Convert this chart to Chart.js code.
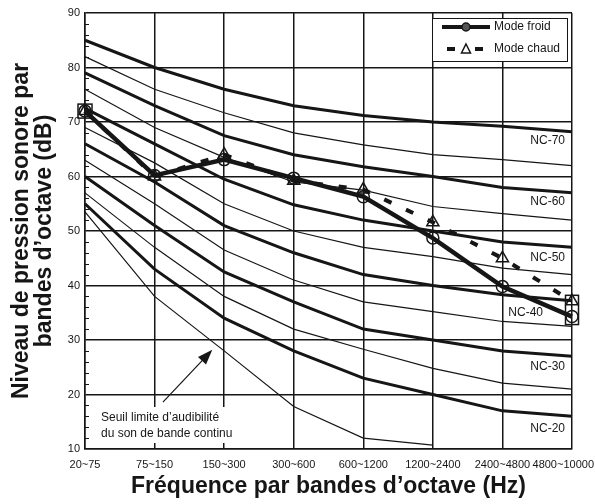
<!DOCTYPE html>
<html lang="fr">
<head>
  <meta charset="UTF-8" />
  <title>Courbes NC</title>
  <script src="https://cdn.jsdelivr.net/npm/chart.js"></script>
  <style>
    html, body { margin: 0; padding: 0; background: #fff; }
    canvas { display: block; }
  </style>
</head>
<body>
  <canvas id="ncChart" width="595" height="504"></canvas>

  <script>
    const bands = ['20~75', '75~150', '150~300', '300~600', '600~1200', '1200~2400', '2400~4800', '4800~10000'];
    const yTicks = [10, 20, 30, 40, 50, 60, 70, 80, 90];

    // NC curves
    const nc70 = [85, 80, 76, 73, 71.2, 70, 69.2, 68.2];
    const nc65 = [82, 76, 71.7, 68, 65.8, 64, 63.1, 62];
    const nc60 = [79, 73, 67.5, 64, 61.8, 60, 58, 57];
    const nc55 = [76, 69, 63.5, 59, 57.5, 54.5, 53.2, 52];
    const nc50 = [72.5, 66, 59.5, 54.8, 52, 50, 48, 47];
    const nc45 = [69, 62.5, 55, 50, 47, 45.3, 43.2, 42];
    const nc40 = [66, 59, 51, 46, 42, 40, 38.3, 37.2];
    const nc35 = [63, 55, 46.5, 41, 37, 35.2, 33.4, 32.5];
    const nc30 = [60, 51, 42.5, 37, 32, 30, 28, 27];
    const nc25 = [57, 47, 38, 32, 28.3, 24.8, 22.1, 21];
    const nc20 = [55, 43, 34, 28, 23, 20, 17, 16];
    const threshold = [53.5, 38, 28, 17.8, 12, 10.7]; // stops at 1200~2400

    const modeFroid = [72, 60.2, 63.1, 59.7, 56.3, 48.7, 39.8, 34.3];
    const modeChaud = [72, 60, 64, 59.2, 57.6, 51.6, 45, 37.1];

    const ncNames = ['NC-70', 'NC-60', 'NC-50', 'NC-40', 'NC-30', 'NC-20'];
    const ncLabelLevels = [66.6, 55.4, 45.1, 35, 25.1, 13.7];

    const FONT = "'Liberation Sans', Arial, Helvetica, sans-serif";
    const INK = '#161616';
    Chart.defaults.font.family = FONT;
    Chart.defaults.color = INK;

    const curve = (data, thick) => ({
      data: data,
      borderColor: INK,
      borderWidth: thick ? 3 : 1.2,
      pointRadius: 0,
      tension: 0
    });

    const decor = {
      id: 'decor',
      afterDatasetsDraw(chart) {
        const { ctx, chartArea: a, scales: { x, y } } = chart;
        ctx.save();

        // small inner ticks every 2 dB
        ctx.strokeStyle = INK;
        ctx.lineWidth = 1;
        for (let v = 12; v < 90; v += 2) {
          if (v % 10 === 0) continue;
          const py = Math.round(y.getPixelForValue(v)) + 0.5;
          ctx.beginPath();
          ctx.moveTo(a.left, py);
          ctx.lineTo(a.left + 4, py);
          ctx.stroke();
        }

        // blank band behind the note
        const gTop = y.getPixelForValue(17.7);
        const gBot = y.getPixelForValue(11.1);
        ctx.fillStyle = '#fff';
        ctx.fillRect(a.left + 12, gTop, x.getPixelForValue(2.95) - a.left - 12, gBot - gTop);

        // note + arrow
        ctx.fillStyle = INK;
        ctx.font = '12px ' + FONT;
        ctx.textAlign = 'left';
        ctx.textBaseline = 'middle';
        ctx.fillText('Seuil limite d’audibilité', a.left + 16, y.getPixelForValue(15.7));
        ctx.fillText('du son de bande continu', a.left + 16, y.getPixelForValue(12.9));

        const x0 = x.getPixelForValue(1.12), y0 = y.getPixelForValue(18.6);
        const x1 = x.getPixelForValue(1.83), y1 = y.getPixelForValue(28.2);
        const ang = Math.atan2(y1 - y0, x1 - x0);
        ctx.lineWidth = 1.2;
        ctx.beginPath();
        ctx.moveTo(x0, y0);
        ctx.lineTo(x1 - 10 * Math.cos(ang), y1 - 10 * Math.sin(ang));
        ctx.stroke();
        ctx.beginPath();
        ctx.moveTo(x1, y1);
        ctx.lineTo(x1 - 15 * Math.cos(ang) + 5.5 * Math.sin(ang), y1 - 15 * Math.sin(ang) - 5.5 * Math.cos(ang));
        ctx.lineTo(x1 - 15 * Math.cos(ang) - 5.5 * Math.sin(ang), y1 - 15 * Math.sin(ang) + 5.5 * Math.cos(ang));
        ctx.closePath();
        ctx.fill();

        // boxes round the first and last measured points
        ctx.lineWidth = 1.5;
        const bx0 = x.getPixelForValue(0), by0 = y.getPixelForValue(modeFroid[0]);
        ctx.strokeRect(bx0 - 7, by0 - 7, 14, 14);
        const n = modeFroid.length - 1;
        const bxn = x.getPixelForValue(n);
        const topN = y.getPixelForValue(Math.max(modeFroid[n], modeChaud[n])) - 6;
        const botN = y.getPixelForValue(Math.min(modeFroid[n], modeChaud[n])) + 8;
        ctx.strokeRect(bxn - 6.5, topN, 13, botN - topN);

        // NC labels
        ctx.font = '12px ' + FONT;
        ctx.textAlign = 'right';
        ncNames.forEach((name, i) => {
          const right = name === 'NC-40' ? a.right - 29 : a.right - 7;
          ctx.fillText(name, right, y.getPixelForValue(ncLabelLevels[i]));
        });

        // band labels under the axis
        ctx.font = '11px ' + FONT;
        ctx.textAlign = 'center';
        bands.forEach((b, i) => {
          const w = ctx.measureText(b).width;
          const px = Math.min(x.getPixelForValue(i), chart.width - w / 2 - 1);
          ctx.fillText(b, px, a.bottom + 16);
        });

        // legend
        const lx = a.right - 140, ly = a.top + 5;
        ctx.fillStyle = '#fff';
        ctx.fillRect(lx, ly, 136, 44);
        ctx.strokeStyle = INK;
        ctx.lineWidth = 1;
        ctx.strokeRect(lx + 0.5, ly + 0.5, 135, 43);

        ctx.lineWidth = 4;
        ctx.beginPath();
        ctx.moveTo(lx + 10, ly + 9);
        ctx.lineTo(lx + 58, ly + 9);
        ctx.stroke();
        ctx.fillStyle = '#555';
        ctx.lineWidth = 1.5;
        ctx.beginPath();
        ctx.arc(lx + 34, ly + 9, 4, 0, Math.PI * 2);
        ctx.fill();
        ctx.stroke();

        ctx.lineWidth = 4;
        ctx.beginPath();
        ctx.moveTo(lx + 15, ly + 31);
        ctx.lineTo(lx + 23, ly + 31);
        ctx.moveTo(lx + 43, ly + 31);
        ctx.lineTo(lx + 51, ly + 31);
        ctx.stroke();
        ctx.lineWidth = 1.5;
        ctx.beginPath();
        ctx.moveTo(lx + 34, ly + 26);
        ctx.lineTo(lx + 38.5, ly + 35);
        ctx.lineTo(lx + 29.5, ly + 35);
        ctx.closePath();
        ctx.stroke();

        ctx.fillStyle = INK;
        ctx.font = '12px ' + FONT;
        ctx.textAlign = 'left';
        ctx.fillText('Mode froid', lx + 62, ly + 9);
        ctx.fillText('Mode chaud', lx + 62, ly + 31);

        ctx.restore();
      }
    };

    new Chart(document.getElementById('ncChart'), {
      type: 'line',
      data: {
        labels: bands,
        datasets: [
          {
            label: 'Mode froid',
            data: modeFroid,
            borderColor: INK,
            borderWidth: 4.5,
            pointStyle: 'circle',
            pointRadius: 6,
            pointBorderWidth: 1.5,
            pointBorderColor: INK,
            pointBackgroundColor: 'rgba(0,0,0,0)',
            clip: false
          },
          {
            label: 'Mode chaud',
            data: modeChaud,
            borderColor: INK,
            borderWidth: 4,
            borderDash: [8, 16],
            pointStyle: 'triangle',
            pointRadius: 7,
            pointBorderWidth: 1.5,
            pointBorderColor: INK,
            pointBackgroundColor: 'rgba(0,0,0,0)',
            clip: false
          },
          curve(nc70, true), curve(nc65, false),
          curve(nc60, true), curve(nc55, false),
          curve(nc50, true), curve(nc45, false),
          curve(nc40, true), curve(nc35, false),
          curve(nc30, true), curve(nc25, false),
          curve(nc20, true), curve(threshold, false)
        ]
      },
      options: {
        responsive: false,
        animation: false,
        layout: { padding: { top: 13, right: 23, left: 0, bottom: 0 } },
        scales: {
          x: {
            type: 'category',
            offset: false,
            afterFit: s => { s.height = 55; s.paddingLeft = 0; s.paddingRight = 0; },
            border: { color: INK, width: 1.5 },
            grid: { color: INK, lineWidth: 1.5, drawTicks: false },
            ticks: { display: false },
            title: {
              display: true,
              text: 'Fréquence par bandes d’octave (Hz)',
              color: INK,
              font: { size: 23, weight: 'bold' },
              padding: { top: 0, bottom: 4 }
            }
          },
          y: {
            min: 10,
            max: 90,
            afterBuildTicks: s => { s.ticks = yTicks.map(v => ({ value: v })); },
            afterFit: s => { s.width = 85; },
            border: { color: INK, width: 1.5 },
            grid: { color: INK, lineWidth: 1.5, drawTicks: false },
            ticks: { color: INK, font: { size: 11 }, padding: 5 },
            title: {
              display: true,
              text: ['Niveau de pression sonore par', 'bandes d’octave (dB)'],
              color: INK,
              font: { size: 23, weight: 'bold', lineHeight: 1.0 },
              padding: { top: 10.5, bottom: 0 }
            }
          }
        },
        plugins: {
          legend: { display: false },
          tooltip: { enabled: false }
        }
      },
      plugins: [decor]
    });
  </script>
</body>
</html>
